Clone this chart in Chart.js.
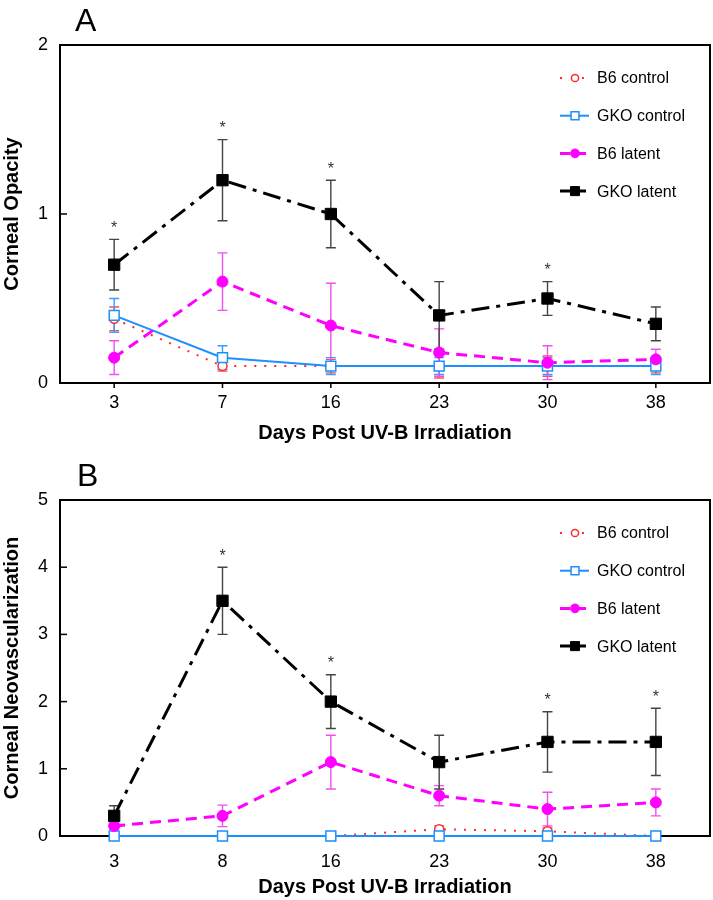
<!DOCTYPE html>
<html><head><meta charset="utf-8">
<script src="https://cdn.jsdelivr.net/npm/chart.js@4/dist/chart.umd.min.js"></script>
<style>
html,body{margin:0;padding:0;background:#fff;}
#wrap{position:relative;width:713px;height:900px;}
.pane{position:absolute;left:0;width:713px;height:450px;}
</style></head><body>
<div id="wrap">
<div class="pane" style="top:0"><canvas id="cA" width="713" height="450"></canvas></div>
<div class="pane" style="top:450px"><canvas id="cB" width="713" height="450"></canvas></div>
</div>
<script>
// ---------- data ----------
const seriesNames = ['B6 control', 'GKO control', 'B6 latent', 'GKO latent'];
const daysA = ['3', '7', '16', '23', '30', '38'];
const daysB = ['3', '8', '16', '23', '30', '38'];
const yTicksA = [0, 1, 2];
const yTicksB = [0, 1, 2, 3, 4, 5];

// Panel A: Corneal Opacity (mean, error)
const b6ControlA = [0.38, 0.10, 0.10, 0.10, 0.10, 0.10];
const b6ControlErrA = [0.07, 0.03, 0.04, 0.07, 0.06, 0.04];
const gkoControlA = [0.40, 0.15, 0.10, 0.10, 0.10, 0.10];
const gkoControlErrA = [0.10, 0.07, 0.05, 0.05, 0.05, 0.05];
const b6LatentA = [0.15, 0.60, 0.34, 0.18, 0.12, 0.14];
const b6LatentErrA = [0.10, 0.17, 0.25, 0.14, 0.10, 0.06];
const gkoLatentA = [0.70, 1.20, 1.00, 0.40, 0.50, 0.35];
const gkoLatentErrA = [0.15, 0.24, 0.20, 0.20, 0.10, 0.10];
const sigA = [true, true, true, false, true, false];

// Panel B: Corneal Neovascularization (mean, error)
const b6ControlB = [0, 0, 0, 0.10, 0.07, 0];
const b6ControlErrB = [0, 0, 0, 0.05, 0.05, 0];
const gkoControlB = [0, 0, 0, 0, 0, 0];
const gkoControlErrB = [0, 0, 0, 0, 0, 0];
const b6LatentB = [0.15, 0.30, 1.10, 0.60, 0.40, 0.50];
const b6LatentErrB = [0.05, 0.16, 0.40, 0.15, 0.25, 0.20];
const gkoLatentB = [0.30, 3.50, 2.00, 1.10, 1.40, 1.40];
const gkoLatentErrB = [0.15, 0.50, 0.40, 0.40, 0.45, 0.50];
const sigB = [false, true, true, false, true, true];

// ---------- styles ----------
const FONT = "'Liberation Sans', Arial, Helvetica, sans-serif";
Chart.defaults.font.family = FONT;
Chart.defaults.color = '#000';

const styles = [
  {color: '#ff2a2a', errColor: '#ff5050', width: 2, dash: [2, 8], pointStyle: 'circle', radius: 4.5, fill: '#ffffff', pbw: 1.5, order: 4},
  {color: '#1e8fff', errColor: '#3c9cff', width: 2, dash: [], pointStyle: 'rect', radius: 7, fill: '#ffffff', pbw: 1.5, order: 3},
  {color: '#ff00ff', errColor: '#f050f0', width: 3, dash: [11, 7], pointStyle: 'circle', radius: 5.5, fill: '#ff00ff', pbw: 1, order: 2},
  {color: '#000000', errColor: '#444444', width: 3, dash: [18, 7, 4, 7], pointStyle: 'rect', radius: 8, fill: '#000000', pbw: 1, order: 1}
];

function makeDatasets(vals, errs) {
  return vals.map((v, i) => {
    const s = styles[i];
    return {
      label: seriesNames[i],
      data: v,
      err: errs[i],
      borderColor: s.color,
      borderWidth: s.width,
      borderDash: s.dash,
      pointStyle: s.pointStyle,
      pointRadius: s.radius,
      pointHoverRadius: s.radius,
      pointBackgroundColor: s.fill,
      pointBorderColor: s.color,
      pointBorderWidth: s.pbw,
      tension: 0,
      fill: false,
      clip: false,
      order: s.order
    };
  });
}

const decoPlugin = {
  id: 'deco',
  beforeDatasetsDraw(chart) {
    const {ctx, chartArea: a, scales: {x, y}} = chart;
    ctx.save();
    // frame
    ctx.strokeStyle = '#000';
    ctx.lineWidth = 2;
    ctx.setLineDash([]);
    ctx.strokeRect(a.left, a.top, a.right - a.left, a.bottom - a.top);
    // y ticks (inward)
    ctx.lineWidth = 1.5;
    y.ticks.forEach(t => {
      const py = y.getPixelForValue(t.value);
      ctx.beginPath(); ctx.moveTo(a.left, py); ctx.lineTo(a.left + 7, py); ctx.stroke();
    });
    // x ticks (outward)
    x.ticks.forEach((t, i) => {
      const px = x.getPixelForValue(i);
      ctx.beginPath(); ctx.moveTo(px, a.bottom); ctx.lineTo(px, a.bottom + 5); ctx.stroke();
    });
    // error bars
    chart.data.datasets.forEach((ds, di) => {
      const s = styles[di];
      ctx.strokeStyle = s.errColor;
      ctx.lineWidth = 1.4;
      ds.data.forEach((v, i) => {
        const e = ds.err[i];
        if (!e) return;
        const px = x.getPixelForValue(i);
        const yt = y.getPixelForValue(v + e);
        const yb = y.getPixelForValue(Math.max(0, v - e));
        ctx.beginPath();
        ctx.moveTo(px, yt); ctx.lineTo(px, yb);
        ctx.moveTo(px - 5, yt); ctx.lineTo(px + 5, yt);
        ctx.moveTo(px - 5, yb); ctx.lineTo(px + 5, yb);
        ctx.stroke();
      });
    });
    ctx.restore();
  },
  afterDatasetsDraw(chart) {
    const o = chart.options.plugins.deco;
    const {ctx, chartArea: a, scales: {x, y}} = chart;
    ctx.save();
    // asterisks above GKO latent error bars
    const g = chart.data.datasets[3];
    ctx.fillStyle = '#333';
    ctx.font = '16px ' + FONT;
    ctx.textAlign = 'center';
    ctx.textBaseline = 'middle';
    o.sig.forEach((s, i) => {
      if (!s) return;
      const px = x.getPixelForValue(i);
      const py = y.getPixelForValue(g.data[i] + g.err[i]) - 14;
      ctx.fillText('*', px, py + 3);
    });
    // legend
    chart.data.datasets.forEach((ds, di) => {
      const s = styles[di];
      const ly = a.top + 33 + 37.7 * di;
      ctx.strokeStyle = s.color;
      ctx.lineWidth = s.width;
      ctx.setLineDash(s.dash.length ? (di === 0 ? [2, 20] : [10, 6]) : []);
      ctx.beginPath(); ctx.moveTo(560, ly); ctx.lineTo(589, ly); ctx.stroke();
      ctx.setLineDash([]);
      ctx.fillStyle = s.fill;
      ctx.strokeStyle = s.color;
      ctx.lineWidth = s.pbw;
      Chart.helpers.drawPoint(ctx, {pointStyle: s.pointStyle, radius: s.radius * 0.8, borderWidth: s.pbw, rotation: 0}, 575, ly);
      ctx.fillStyle = '#000';
      ctx.font = '16px ' + FONT;
      ctx.textAlign = 'left';
      ctx.textBaseline = 'middle';
      ctx.fillText(ds.label, 597, ly + 1);
    });
    // panel letter
    ctx.fillStyle = '#000';
    ctx.font = '32px ' + FONT;
    ctx.textAlign = 'left';
    ctx.textBaseline = 'alphabetic';
    ctx.fillText(o.letter, o.letterX, o.letterY);
    ctx.restore();
  }
};

function makeChart(id, labels, yTicks, yMax, yTitle, datasets, sig, lay) {
  return new Chart(document.getElementById(id), {
    type: 'line',
    data: {labels: labels, datasets: datasets},
    options: {
      responsive: false,
      animation: false,
      layout: {autoPadding: false, padding: {top: lay.top, right: 3, left: 0, bottom: 0}},
      plugins: {
        legend: {display: false},
        tooltip: {enabled: false},
        deco: {sig: sig, letter: lay.letter, letterX: lay.letterX, letterY: lay.letterY}
      },
      scales: {
        x: {
          type: 'category',
          offset: true,
          grid: {display: false, drawTicks: false},
          border: {display: false},
          ticks: {font: {size: 18}, color: '#000', padding: lay.xTickPad, maxRotation: 0},
          title: {display: true, text: 'Days Post UV-B Irradiation', font: {size: 20, weight: 'bold'}, color: '#000', padding: {top: 0, bottom: lay.xTitlePad}},
          afterFit: s => { s.height = lay.xHeight; }
        },
        y: {
          min: 0, max: yMax,
          grid: {display: false, drawTicks: false},
          border: {display: false},
          ticks: {font: {size: 18}, color: '#000', padding: 12},
          afterBuildTicks: s => { s.ticks = yTicks.map(v => ({value: v})); },
          title: {display: true, text: yTitle, font: {size: 20, weight: 'bold'}, color: '#000', padding: {top: 0, bottom: 0}},
          afterFit: s => { s.width = 60; }
        }
      }
    },
    plugins: [decoPlugin]
  });
}

makeChart('cA', daysA, yTicksA, 2, 'Corneal Opacity',
  makeDatasets([b6ControlA, gkoControlA, b6LatentA, gkoLatentA], [b6ControlErrA, gkoControlErrA, b6LatentErrA, gkoLatentErrA]),
  sigA, {top: 45, xHeight: 67, xTickPad: 9, xTitlePad: 5, letter: 'A', letterX: 75, letterY: 31});

makeChart('cB', daysB, yTicksB, 5, 'Corneal Neovascularization',
  makeDatasets([b6ControlB, gkoControlB, b6LatentB, gkoLatentB], [b6ControlErrB, gkoControlErrB, b6LatentErrB, gkoLatentErrB]),
  sigB, {top: 50, xHeight: 64, xTickPad: 15, xTitlePad: 1, letter: 'B', letterX: 77, letterY: 36});
</script>
</body></html>
